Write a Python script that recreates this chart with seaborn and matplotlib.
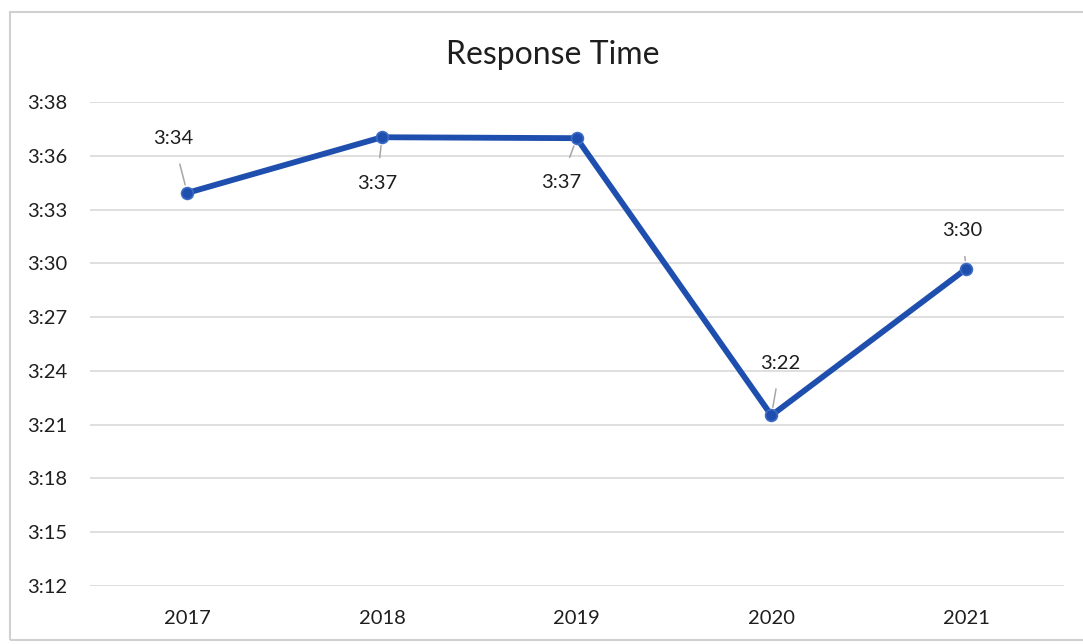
import matplotlib

matplotlib.use("Agg")

import matplotlib.pyplot as plt
import numpy as np
import pandas as pd
import seaborn as sns
from matplotlib.patches import Rectangle


# Response time per year, in seconds (3:34 -> 214 s, etc.)
years = ["2017", "2018", "2019", "2020", "2021"]
seconds = [213.6, 216.6, 216.55, 201.6, 209.5]
point_labels = ["3:34", "3:37", "3:37", "3:22", "3:30"]

# Excel axis: evenly spaced gridlines, labels rounded to whole seconds
y_tick_labels = ["3:12", "3:15", "3:18", "3:21", "3:24", "3:27", "3:30", "3:33", "3:36", "3:38"]
Y_START = 192.4
Y_STEP = 2.9

# where each data label sits relative to its point (pixels)
label_offsets = [(-14, 54), (-5, -46), (-16, -44), (9, 52), (-4, 38)]

LINE_COLOR = "#1F4FAE"
TEXT_COLOR = "#1E1E1E"
GRID_COLOR = "#D9D9D9"

sns.set_style("white")
plt.rcParams["font.family"] = ["Lato", "DejaVu Sans"]

df = pd.DataFrame({"year": years, "seconds": seconds})

fig = plt.figure(figsize=(10.83, 6.44), dpi=100)
ax = fig.add_axes([0.083, 0.090, 0.899, 0.7516])

sns.lineplot(data=df, x="year", y="seconds", ax=ax, color=LINE_COLOR, linewidth=4.2,
             marker="o", markersize=8.5, markerfacecolor=LINE_COLOR,
             markeredgecolor="#3C6BC4", markeredgewidth=1.2, sort=False)

y_ticks = Y_START + Y_STEP * np.arange(len(y_tick_labels))
ax.set_ylim(y_ticks[0], y_ticks[-1])
ax.set_xlim(-0.5, len(years) - 0.5)
ax.set_yticks(y_ticks)
ax.set_yticklabels(y_tick_labels)
ax.yaxis.grid(True, color=GRID_COLOR, linewidth=1.2)
ax.set_axisbelow(True)
for side in ["top", "right", "left", "bottom"]:
    ax.spines[side].set_visible(False)
ax.tick_params(axis="both", length=0, labelsize=14.5, colors=TEXT_COLOR)
ax.tick_params(axis="y", pad=16)
ax.tick_params(axis="x", pad=17)
ax.set_xlabel("")
ax.set_ylabel("")

for i, (text, off) in enumerate(zip(point_labels, label_offsets)):
    ax.annotate(text, xy=(i, seconds[i]), xytext=off, textcoords="offset pixels",
                ha="center", va="center", fontsize=14.5, color=TEXT_COLOR,
                arrowprops=dict(arrowstyle="-", color="#A6A6A6", linewidth=1.1,
                                shrinkA=10, shrinkB=6))

fig.text(0.5105, 0.914, "Response Time", ha="center", va="center",
         fontsize=23, color=TEXT_COLOR)

# chart area outline like the Excel frame
fig.patches.append(Rectangle((10 / 1083, 4 / 644), 1.02, 628 / 644, transform=fig.transFigure,
                             fill=False, edgecolor="#D0D0D0", linewidth=1.5))

fig.savefig("out.png", dpi=100)
